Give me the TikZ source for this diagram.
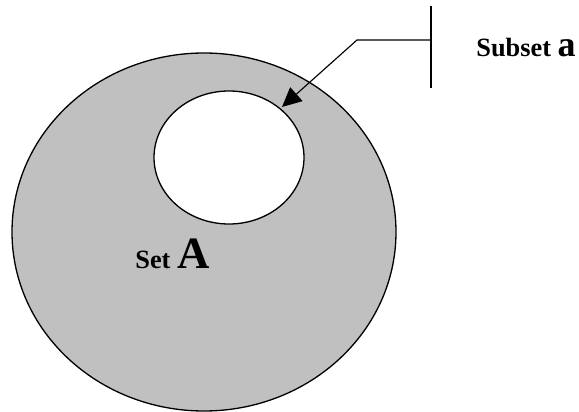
\documentclass[tikz,border=0pt]{standalone}
\usepackage{fontspec}
\setmainfont{Liberation Serif}
\usepackage{tikz}
\usetikzlibrary{arrows.meta}
\usepackage{xcolor}
\definecolor{setgray}{HTML}{C0C0C0}

\begin{document}
\begin{tikzpicture}[x=0.02cm,y=-0.02cm,>={Triangle[length=11pt,width=10.5pt]}]
    \useasboundingbox (0,0) rectangle (579,412);
    % sets
    \draw[line width=0.75pt,fill=setgray] (204,232) ellipse [x radius=192,y radius=179];
    \draw[line width=0.75pt,fill=white] (229,157.5) ellipse [x radius=75,y radius=66.5];
    % pointer
    \coordinate (tip) at (282,107);
    \coordinate (bend) at (357,40);
    \coordinate (bar) at (431,40);
    \coordinate (bartop) at (431,6);
    \coordinate (barbot) at (431,88);
    \draw[line width=0.65pt] (bartop) -- (barbot);
    \draw[->,line width=0.65pt] (bar) -- (bend) -- (tip);
    % labels
    \node[anchor=base west,inner sep=0pt] (subset) at (476,56.7)
        {\bfseries\fontsize{15pt}{18pt}\selectfont Subset \fontsize{20.5pt}{24pt}\selectfont a};
    \node[anchor=base west,inner sep=0pt] (setA) at (135,269)
        {\bfseries\fontsize{15pt}{18pt}\selectfont Set \fontsize{25.5pt}{30pt}\selectfont A};
\end{tikzpicture}
\end{document}
